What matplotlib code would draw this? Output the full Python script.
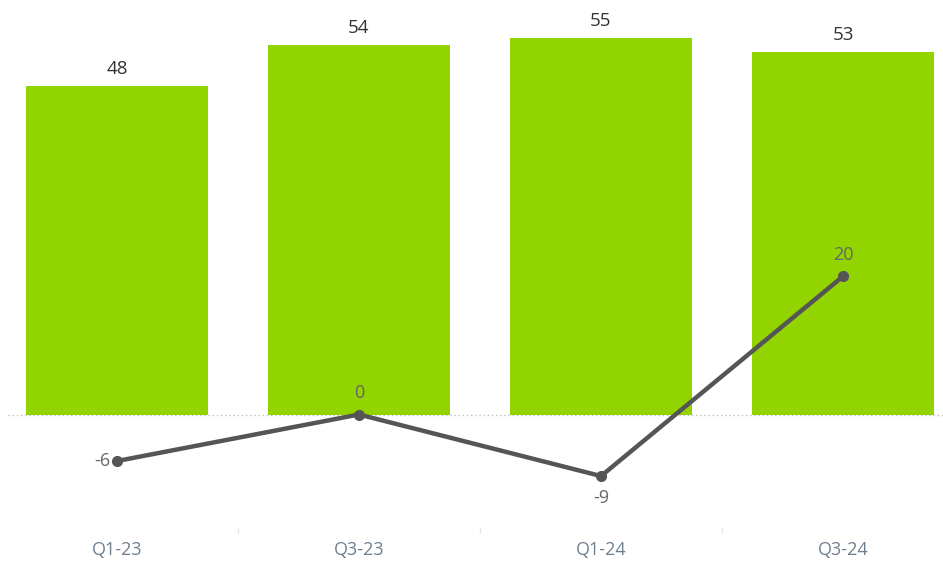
import matplotlib.pyplot as plt
import numpy as np

quarters = ['Q1-23', 'Q3-23', 'Q1-24', 'Q3-24']
bar_values = [48, 54, 55, 53]
line_values = [-6.8, 0.0, -9.0, 20.2]
line_labels = ['-6', '0', '-9', '20']

plt.rcParams['font.family'] = ['Open Sans', 'DejaVu Sans']

fig = plt.figure(figsize=(9.43, 5.61), dpi=100)
# plot area runs from the top edge down to the faint separators
ax = fig.add_axes([0, 31 / 561, 1, 530 / 561])

x = np.arange(len(quarters))
ax.bar(x, bar_values, width=0.75, color='#92d400', zorder=2)
ax.plot(x, line_values, color='#555555', lw=3.2, marker='o', ms=7, zorder=3)

# dotted zero line
ax.axhline(0, xmin=8 / 943, xmax=1, color='#bdbdbd', lw=1, ls=(0, (1, 2)), zorder=1)

# bar value labels
for xi, v in zip(x, bar_values):
    ax.annotate(str(v), (xi, v), xytext=(0, 6), textcoords='offset points',
                ha='center', va='bottom', fontsize=13.5, color='#333333')

# line value labels
offsets = [(-5, 0, 'right', 'center'), (0, 9, 'center', 'bottom'),
           (0, -9, 'center', 'top'), (0, 9, 'center', 'bottom')]
for xi, v, lab, (dx, dy, ha, va) in zip(x, line_values, line_labels, offsets):
    ax.annotate(lab, (xi, v), xytext=(dx, dy), textcoords='offset points',
                ha=ha, va=va, fontsize=13, color='#666666')

ax.set_xlim(-117 / 242, (943 - 117) / 242)
ax.set_ylim(-(530 - 414.5) / 6.84, 414.5 / 6.84)

ax.set_xticks(x)
ax.set_xticklabels(quarters, fontsize=13, color='#6f7f90')
ax.tick_params(axis='x', length=0, pad=8)
ax.set_xticks(x[:-1] + 0.5, minor=True)
ax.tick_params(axis='x', which='minor', length=5, direction='inout', color='#e6e6e6', width=1)
ax.set_yticks([])
for s in ax.spines.values():
    s.set_visible(False)

fig.savefig('out.png', dpi=100)
